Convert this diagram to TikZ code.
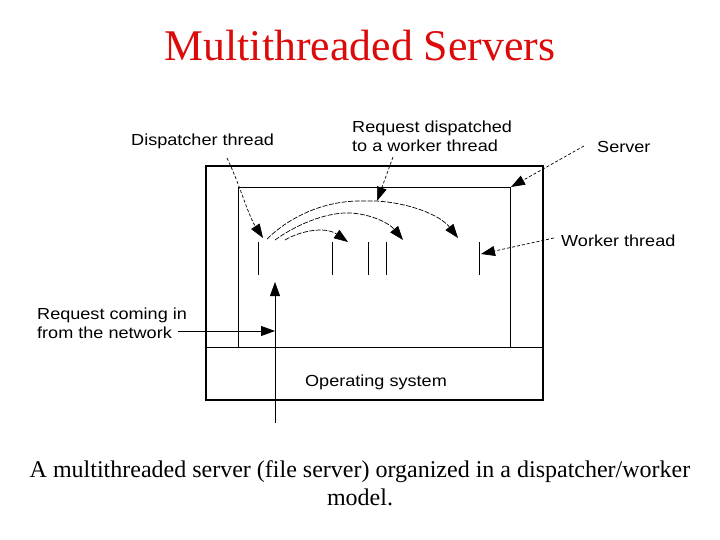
\documentclass[tikz,border=0pt]{standalone}
\usepackage{fontspec}
\setmainfont{Liberation Serif}
\setsansfont[FakeStretch=1.13]{Liberation Sans}
\usetikzlibrary{arrows.meta}
\definecolor{titlered}{RGB}{220,10,10}
\tikzset{
  lbl/.style={font=\sffamily\fontsize{16}{19}\selectfont, inner sep=0pt, align=left},
  leader/.style={line width=0.7pt, dash pattern=on 3pt off 2pt, -{Triangle[length=14pt,width=10pt]}},
  flow/.style={line width=0.7pt, dash pattern=on 5pt off 1.5pt, -{Triangle[length=14pt,width=10pt]}},
  solidarrow/.style={line width=0.8pt, -{Triangle[length=14pt,width=10pt]}},
  thread/.style={line width=0.8pt},
}
\begin{document}
\begin{tikzpicture}[x=1pt,y=-1pt]
\useasboundingbox (0,0) rectangle (720,540);
% title
\node[text=titlered, font=\fontsize{43.8}{50}\selectfont, inner sep=0pt] (title) at (360,46) {Multithreaded Servers};
% boxes
\draw[line width=2.2pt] (206,166) rectangle (543,400);
\draw[line width=0.8pt] (238,347) -- (238,187) -- (510,187) -- (510,347);
\draw[line width=0.8pt] (206,347) -- (543,347);
\node[lbl] (os) at (376,382) {Operating system};
% thread lines
\foreach \n/\x in {t1/258,t2/332,t3/368,t4/386,t5/479}{
  \coordinate (\n top) at (\x,242);
  \coordinate (\n bot) at (\x,275);
  \draw[thread] (\n top) -- (\n bot);
}
% labels
\node[lbl, anchor=west] (disp) at (131,141) {Dispatcher thread};
\node[lbl, anchor=west] (reqd) at (352,136) {Request dispatched\\to a worker thread};
\node[lbl, anchor=west] (server) at (597,147) {Server};
\node[lbl, anchor=west] (worker) at (561,241) {Worker thread};
\node[lbl, anchor=west] (reqin) at (37,323) {Request coming in\\from the network};
% leader targets
\coordinate (dispS) at (227,158);
\coordinate (dispT) at (263,238);
\coordinate (reqdS) at (393,157);
\coordinate (reqdT) at (377,201);
\coordinate (servS) at (584,146);
\coordinate (servT) at (511,187);
\coordinate (workS) at (554,238);
\coordinate (workT) at (481,254);
\draw[leader] (dispS) .. controls (240,185) and (248,215) .. (dispT);
\draw[leader] (reqdS) -- (reqdT);
\draw[leader] (servS) -- (servT);
\draw[leader] (workS) -- (workT);
% network request
\coordinate (netB) at (275,423);
\coordinate (netT) at (275,282);
\coordinate (netL) at (178,331);
\coordinate (netR) at (275,331);
\draw[solidarrow] (netB) -- (netT);
\draw[solidarrow] (netL) -- (netR);
% dispatch curves
\coordinate (c1S) at (267,239);
\coordinate (c1T) at (458,238);
\coordinate (c2S) at (275,240);
\coordinate (c2T) at (403,240);
\coordinate (c3S) at (285,240);
\coordinate (c3T) at (348,242);
\draw[flow] (c1S) .. controls (295,212) and (330,201) .. (360,201) -- (376,201) .. controls (410,203) and (440,215) .. (c1T);
\draw[flow] (c2S) .. controls (300,222) and (330,212) .. (350,213) .. controls (372,214) and (390,224) .. (c2T);
\draw[flow] (c3S) .. controls (300,231) and (325,226) .. (c3T);
% caption
\node[font=\fontsize{24}{28}\selectfont, inner sep=0pt, align=center] (caption) at (360,483) {A multithreaded server (file server) organized in a dispatcher/worker\\model.};
\end{tikzpicture}
\end{document}
